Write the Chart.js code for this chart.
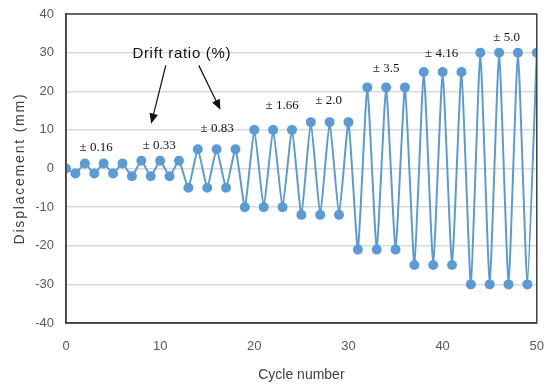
<!DOCTYPE html>
<html>
<head>
<meta charset="utf-8">
<script src="https://cdn.jsdelivr.net/npm/chart.js@4"></script>
<style>
  html, body { margin: 0; padding: 0; background: #fff; }
  #wrap { width: 552px; height: 388px; }
</style>
</head>
<body>
<div id="wrap"><canvas id="chart" width="552" height="388"></canvas></div>
<script>
const cycles = [0, 1, 2, 3, 4, 5, 6, 7, 8, 9, 10, 11, 12, 13, 14, 15, 16, 17, 18, 19, 20,
  21, 22, 23, 24, 25, 26, 27, 28, 29, 30, 31, 32, 33, 34, 35, 36, 37, 38, 39, 40,
  41, 42, 43, 44, 45, 46, 47, 48, 49, 50];
const displacement = [0, -1.3, 1.3, -1.3, 1.3, -1.3, 1.3, -2, 2, -2, 2, -2, 2,
  -5, 5, -5, 5, -5, 5, -10, 10, -10, 10, -10, 10, -12, 12, -12, 12, -12, 12,
  -21, 21, -21, 21, -21, 21, -25, 25, -25, 25, -25, 25,
  -30, 30, -30, 30, -30, 30, -30, 30];
const yTicks = [-40, -30, -20, -10, 0, 10, 20, 30, 40];
const xTicks = [0, 10, 20, 30, 40, 50];
const driftLabels = ['± 0.16', '± 0.33', '± 0.83', '± 1.66', '± 2.0', '± 3.5', '± 4.16', '± 5.0'];

// where the drift labels sit, in data units
const driftPos = [[3.2, 5.5], [9.9, 6], [16.05, 10.4], [22.95, 16.3], [27.9, 17.6], [34, 25.9], [39.9, 29.8], [46.8, 33.9]];

const points = cycles.map((c, i) => ({ x: c, y: displacement[i] }));

const notes = {
  id: 'notes',
  afterDraw(chart) {
    const { ctx, chartArea: a, scales: { x, y } } = chart;
    ctx.save();
    // box round the plot
    ctx.strokeStyle = '#404040';
    ctx.lineWidth = 1.5;
    ctx.strokeRect(a.left, a.top, a.right - a.left, a.bottom - a.top);

    ctx.fillStyle = '#111';
    ctx.textAlign = 'center';
    ctx.textBaseline = 'middle';
    ctx.font = '13px "Liberation Serif"';
    driftLabels.forEach((t, i) => {
      ctx.fillText(t, x.getPixelForValue(driftPos[i][0]), y.getPixelForValue(driftPos[i][1]));
    });

    ctx.font = '15px "Liberation Sans"';
    ctx.letterSpacing = '0.7px';
    ctx.fillText('Drift ratio (%)', x.getPixelForValue(12.3), y.getPixelForValue(29.8));

    // y axis title, spaced out like the original
    ctx.save();
    ctx.translate(20, (a.top + a.bottom) / 2);
    ctx.rotate(-Math.PI / 2);
    ctx.fillStyle = '#404040';
    ctx.font = '14px "Liberation Sans"';
    ctx.letterSpacing = '1.8px';
    ctx.fillText('Displacement (mm)', 0, 0);
    ctx.restore();
    ctx.letterSpacing = '0px';

    const arrow = (x0, y0, x1, y1) => {
      const px0 = x.getPixelForValue(x0), py0 = y.getPixelForValue(y0);
      const px1 = x.getPixelForValue(x1), py1 = y.getPixelForValue(y1);
      const ang = Math.atan2(py1 - py0, px1 - px0);
      ctx.strokeStyle = '#111';
      ctx.lineWidth = 1.2;
      ctx.beginPath();
      ctx.moveTo(px0, py0);
      ctx.lineTo(px1 - 9 * Math.cos(ang), py1 - 9 * Math.sin(ang));
      ctx.stroke();
      ctx.beginPath();
      ctx.moveTo(px1, py1);
      ctx.lineTo(px1 - 11 * Math.cos(ang - 0.4), py1 - 11 * Math.sin(ang - 0.4));
      ctx.lineTo(px1 - 11 * Math.cos(ang + 0.4), py1 - 11 * Math.sin(ang + 0.4));
      ctx.closePath();
      ctx.fill();
    };
    arrow(10.6, 26.7, 9.05, 11.6);
    arrow(14.1, 26.7, 16.4, 15.2);
    ctx.restore();
  }
};

new Chart(document.getElementById('chart'), {
  type: 'line',
  data: {
    datasets: [{
      data: points,
      borderColor: '#5b9bd5',
      backgroundColor: '#5b9bd5',
      borderWidth: 2,
      pointRadius: 4,
      pointHoverRadius: 4,
      tension: 0.15,
    }],
  },
  options: {
    responsive: false,
    animation: false,
    layout: { padding: { top: 14, right: 8, left: 0, bottom: 0 } },
    plugins: { legend: { display: false }, tooltip: { enabled: false } },
    scales: {
      x: {
        type: 'linear',
        min: 0, max: 50,
        afterBuildTicks: s => { s.ticks = xTicks.map(v => ({ value: v })); },
        afterFit: s => { s.height = 65; },
        grid: { display: false },
        border: { color: '#404040', width: 1.5 },
        ticks: { color: '#595959', font: { family: '"Liberation Sans"', size: 13 }, padding: 8 },
        title: { display: true, text: 'Cycle number', color: '#404040', font: { family: '"Liberation Sans"', size: 14 }, padding: { top: 4, bottom: 4 } },
      },
      y: {
        min: -40, max: 40,
        afterBuildTicks: s => { s.ticks = yTicks.map(v => ({ value: v })); },
        afterFit: s => { s.width = 66; s.paddingTop = 0; s.paddingBottom = 0; },
        grid: { color: '#d9d9d9', lineWidth: 1.5, drawTicks: false },
        border: { color: '#404040', width: 1.5 },
        ticks: { color: '#595959', font: { family: '"Liberation Sans"', size: 13 }, padding: 12 },
        title: { display: false },
      },
    },
  },
  plugins: [notes],
});
</script>
</body>
</html>
